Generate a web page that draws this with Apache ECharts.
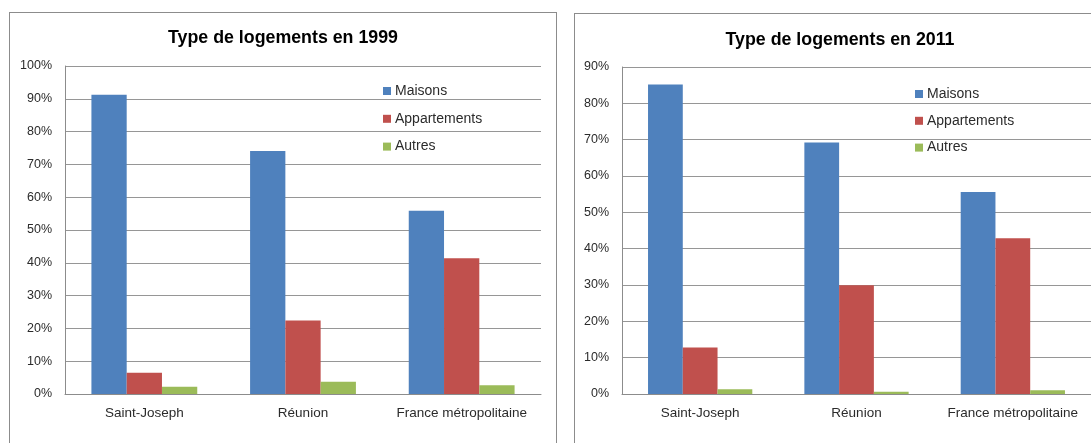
<!DOCTYPE html>
<html>
<head>
<meta charset="utf-8">
<script src="https://cdn.jsdelivr.net/npm/echarts@6/dist/echarts.min.js"></script>
<style>
html, body { margin: 0; padding: 0; background: #fff; }
.frame { position: absolute; border: 1px solid #8c8c8c; box-sizing: border-box; }
#f1999 { left: 9px; top: 12px; width: 548px; height: 460px; }
#f2011 { left: 574px; top: 13px; width: 560px; height: 460px; }
#chart { position: absolute; left: 0; top: 0; width: 1091px; height: 443px; }
</style>
</head>
<body>
<div class="frame" id="f1999"></div>
<div class="frame" id="f2011"></div>
<div id="chart"></div>
<script>
// catégories et séries (en %)
var categories = ['Saint-Joseph', 'Réunion', 'France métropolitaine'];
var seriesNames = ['Maisons', 'Appartements', 'Autres'];
var colors = ['#4F81BD', '#C0504D', '#9BBB59'];

var maisons1999 = [91.2, 74.1, 55.9];
var appartements1999 = [6.5, 22.4, 41.4];
var autres1999 = [2.2, 3.7, 2.7];

var maisons2011 = [85.2, 69.2, 55.6];
var appartements2011 = [12.8, 29.9, 42.9];
var autres2011 = [1.3, 0.6, 1.0];

var fontFamily = 'Liberation Sans, Arial, sans-serif';
var textColor = '#2b2b2b';
var gridColor = '#969696';

function makeBar(name, data, idx, color) {
    return {
        name: name,
        type: 'bar',
        xAxisIndex: idx,
        yAxisIndex: idx,
        data: data,
        barGap: 0,
        barCategoryGap: '33.3%',
        itemStyle: { color: color },
        emphasis: { disabled: true }
    };
}

function xAxis(idx) {
    return {
        type: 'category',
        gridIndex: idx,
        data: categories,
        axisLine: { lineStyle: { color: '#8c8c8c' } },
        axisTick: { show: false },
        axisLabel: { color: textColor, fontSize: 13.5, fontFamily: fontFamily, margin: 12, interval: 0 }
    };
}

function yAxis(idx, max) {
    return {
        type: 'value',
        gridIndex: idx,
        min: 0,
        max: max,
        interval: 10,
        axisLine: { show: true, lineStyle: { color: '#8c8c8c' } },
        axisTick: { show: false },
        splitLine: { lineStyle: { color: gridColor } },
        axisLabel: { color: textColor, fontSize: 12.5, fontFamily: fontFamily, margin: 13, formatter: '{value}%' }
    };
}

function legend(left, top, gap) {
    return {
        orient: 'vertical',
        left: left,
        top: top,
        padding: 0,
        icon: 'rect',
        itemWidth: 8,
        itemHeight: 8,
        itemGap: gap,
        selectedMode: false,
        data: seriesNames,
        textStyle: { color: textColor, fontSize: 14, fontFamily: fontFamily, lineHeight: 14, padding: [0, 0, 0, -1] }
    };
}

var myChart = echarts.init(document.getElementById('chart'));
myChart.setOption({
    animation: false,
    backgroundColor: 'transparent',
    title: [
        { text: 'Type de logements en 1999', left: 283, top: 29, padding: 0, textAlign: 'center',
          textStyle: { color: '#000', fontSize: 17.8, fontWeight: 'bold', fontFamily: fontFamily } },
        { text: 'Type de logements en 2011', left: 840, top: 31, padding: 0, textAlign: 'center',
          textStyle: { color: '#000', fontSize: 17.8, fontWeight: 'bold', fontFamily: fontFamily } }
    ],
    legend: [
        legend(383, 84, 13.8),
        legend(915, 87, 12.8)
    ],
    grid: [
        { left: 65, top: 66, width: 476, height: 328 },
        { left: 622, top: 67, width: 472, height: 327 }
    ],
    xAxis: [xAxis(0), xAxis(1)],
    yAxis: [yAxis(0, 100), yAxis(1, 90)],
    series: [
        makeBar('Maisons', maisons1999, 0, colors[0]),
        makeBar('Appartements', appartements1999, 0, colors[1]),
        makeBar('Autres', autres1999, 0, colors[2]),
        makeBar('Maisons', maisons2011, 1, colors[0]),
        makeBar('Appartements', appartements2011, 1, colors[1]),
        makeBar('Autres', autres2011, 1, colors[2])
    ]
});
</script>
</body>
</html>
